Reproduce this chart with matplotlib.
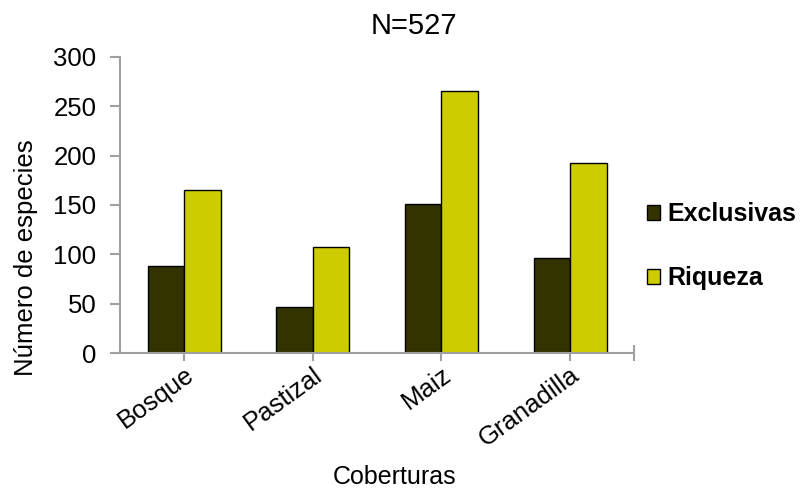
import matplotlib
matplotlib.use("Agg")
import matplotlib.pyplot as plt
import matplotlib.transforms as mtransforms
import numpy as np
from matplotlib.patches import Patch

plt.rcParams['font.family'] = ['Liberation Sans', 'DejaVu Sans']

coberturas = ["Bosque", "Pastizal", "Maiz", "Granadilla"]
exclusivas = [88, 47, 151, 96]
riqueza = [165, 107, 265, 192]
yticks = [0, 50, 100, 150, 200, 250, 300]

dark = "#333300"
yellow = "#cccc00"
axis_gray = "#a0a0a0"

fig = plt.figure(figsize=(8.05, 4.88), dpi=100)
ax = fig.add_axes([0.149, 0.276, 0.639, 0.608])

x = np.arange(len(coberturas))
w = 0.284
ax.bar(x - w / 2, exclusivas, width=w, color=dark, edgecolor="black", linewidth=1.0)
ax.bar(x + w / 2, riqueza, width=w, color=yellow, edgecolor="black", linewidth=1.0)

ax.set_xlim(-0.5, len(coberturas) - 0.5)
ax.set_ylim(0, 300)
ax.set_yticks(yticks)
ax.set_yticklabels([str(v) for v in yticks], fontsize=18.5)

ax.set_xticks(x)
ax.set_xticklabels(coberturas, fontsize=18.5, rotation=36, ha="right",
                   rotation_mode="anchor")
shift = mtransforms.ScaledTranslation(6 / 100, 0, fig.dpi_scale_trans)
for lbl in ax.get_xticklabels():
    lbl.set_transform(lbl.get_transform() + shift)
ax.set_xticks([len(coberturas) - 0.5], minor=True)
ax.tick_params(axis="x", which="minor", direction="inout", length=12,
               color=axis_gray, width=1.5)

for side in ("top", "right"):
    ax.spines[side].set_visible(False)
for side in ("left", "bottom"):
    ax.spines[side].set_color(axis_gray)
    ax.spines[side].set_linewidth(1.5)
ax.tick_params(axis="y", length=7, width=1.5, color=axis_gray, pad=10)
ax.tick_params(axis="x", which="major", length=6, width=1.5, color=axis_gray, pad=0.5)

fig.text(414 / 805, 1 - 26 / 488, "N=527", fontsize=21, ha="center", va="center")
fig.text(395 / 805, 1 - 484 / 488, "Coberturas", fontsize=18, ha="center",
         va="baseline")
fig.text(26 / 805, 1 - 258 / 488, "Número de especies", fontsize=18.5,
         rotation=90, ha="center", va="center")

handles = [Patch(facecolor=dark, edgecolor="black", linewidth=1.0),
           Patch(facecolor=yellow, edgecolor="black", linewidth=1.0)]
fig.legend(handles, ["Exclusivas", "Riqueza"], loc="center left",
           bbox_to_anchor=(629 / 805, 1 - 246 / 488), frameon=False,
           prop={"size": 18, "weight": "bold"}, handlelength=0.55,
           handleheight=0.55, handletextpad=0.3, labelspacing=1.6,
           borderpad=0.2)

fig.savefig("out.png", dpi=100)
